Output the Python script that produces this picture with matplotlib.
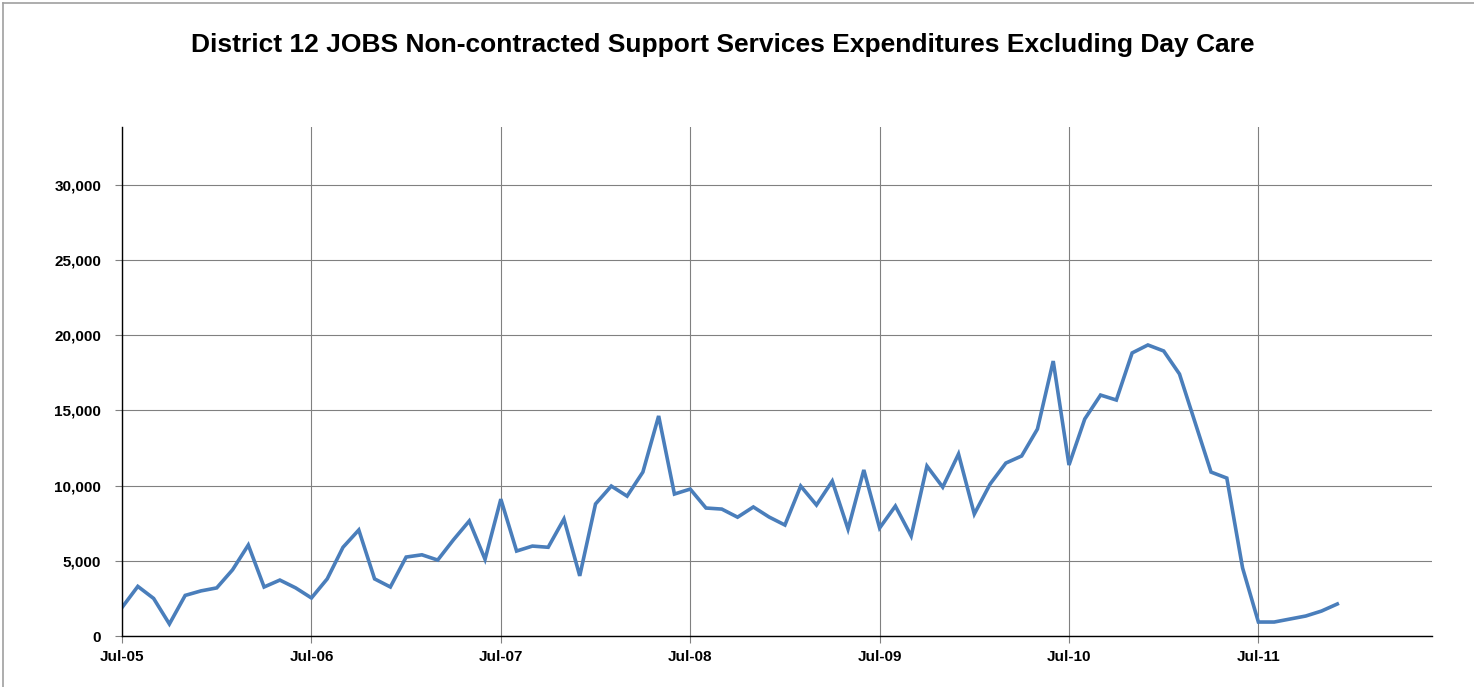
import matplotlib
matplotlib.use('Agg')
import matplotlib.pyplot as plt
from matplotlib.ticker import FuncFormatter
from matplotlib.lines import Line2D

plt.rcParams['font.family'] = ['Liberation Sans', 'DejaVu Sans']

# monthly expenditures, Jul-05 .. Dec-11
expenditures = [
    1900, 3300, 2500, 800, 2700, 3000, 3200, 4400, 6050, 3260, 3720, 3200,
    2530, 3800, 5900, 7050, 3800, 3260, 5250, 5400, 5050, 6400, 7650, 5100,
    9100, 5650, 5980, 5900, 7780, 4000, 8780, 9970, 9300, 10900, 14630, 9440,
    9770, 8510, 8440, 7900, 8580, 7910, 7380, 9970, 8710, 10300, 7110, 11040,
    7180, 8640, 6650, 11300, 9900, 12100, 8110, 10100, 11500, 11970, 13760, 18280,
    11370, 14430, 16020, 15690, 18820, 19350, 18950, 17420, 14160, 10900, 10500, 4520,
    930, 930, 1130, 1330, 1660, 2130,
]
months = list(range(len(expenditures)))
year_labels = ['Jul-05', 'Jul-06', 'Jul-07', 'Jul-08', 'Jul-09', 'Jul-10', 'Jul-11']
year_ticks = [12 * i for i in range(len(year_labels))]
y_ticks = [0, 5000, 10000, 15000, 20000, 25000, 30000]

fig = plt.figure(figsize=(14.74, 6.87), dpi=100)
ax = fig.add_axes([0.0828, 0.0742, 0.8887, 0.7409])

ax.plot(months, expenditures, color='#4A7EBB', linewidth=2.6, solid_joinstyle='miter')

ax.set_xlim(0, 83)
ax.set_ylim(0, 33840)
ax.set_xticks(year_ticks)
ax.set_xticklabels(year_labels)
ax.set_yticks(y_ticks)
ax.yaxis.set_major_formatter(FuncFormatter(lambda v, p: '{:,.0f}'.format(v)))

ax.grid(True, color='#808080', linewidth=0.8)
ax.set_axisbelow(True)
for s in ['top', 'right']:
    ax.spines[s].set_visible(False)
for s in ['left', 'bottom']:
    ax.spines[s].set_color('black')
    ax.spines[s].set_linewidth(1.0)

ax.tick_params(axis='both', direction='out', length=5, width=0.8, color='#808080',
               labelsize=11)
for lab in ax.get_xticklabels() + ax.get_yticklabels():
    lab.set_fontweight('bold')
ax.tick_params(axis='x', pad=5)
ax.tick_params(axis='y', pad=10)

fig.text(0.4905, 0.935, 'District 12 JOBS Non-contracted Support Services Expenditures Excluding Day Care',
         ha='center', va='center', fontsize=19, fontweight='bold')

# chart area border (top and left visible)
fig.add_artist(Line2D([0.002, 1.0], [0.996, 0.996], color='#A0A0A0', linewidth=1.2))
fig.add_artist(Line2D([0.002, 0.002], [0.0, 0.996], color='#A0A0A0', linewidth=1.2))

fig.savefig('out.png', dpi=100)
